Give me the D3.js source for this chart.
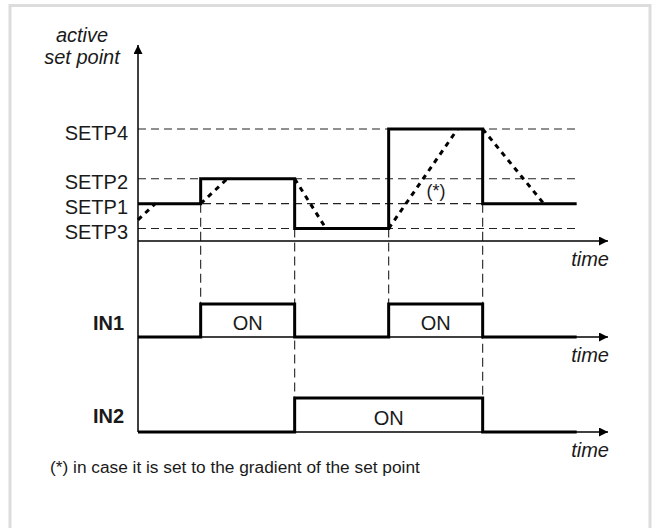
<!DOCTYPE html>
<html lang="en">
<head>
    <meta charset="UTF-8">
    <title>Set point switching diagram</title>
    <script src="https://d3js.org/d3.v7.min.js"></script>
    <style>
        body { margin: 0; background: #fff; }
        svg text { font-family: "Liberation Sans", Arial, Helvetica, sans-serif; fill: #1a1a1a; }
        .lbl { font-size: 20px; }
        .ital { font-style: italic; }
        .bold { font-weight: bold; }
        .axis { stroke: #000; stroke-width: 1.5; fill: none; }
        .thick { stroke: #000; stroke-width: 3; fill: none; }
        .guide { stroke: #222; stroke-width: 1.1; stroke-dasharray: 8,5; fill: none; }
        .vguide { stroke: #222; stroke-width: 1.1; stroke-dasharray: 9,5; fill: none; }
        .ramp { stroke: #000; stroke-width: 3; stroke-dasharray: 5,5; fill: none; }
    </style>
</head>
<body>
<div id="chart"></div>
<script>
    // set point levels (arbitrary units)
    var levelNames = ["SETP3", "SETP1", "SETP2", "SETP4"];
    var levelValues = [1, 3, 5, 9];

    // time units
    var switchTimes = [4, 10, 16, 22];
    var endTime = 28;
    var axisEnd = 30;

    // active set point (step line)
    var setpointT = [0, 4, 4, 10, 10, 16, 16, 22, 22, 28];
    var setpointV = [3, 3, 5, 5, 1, 1, 9, 9, 3, 3];

    // gradient ramps (*) : [t0, v0, t1, v1]
    var ramps = [
        [0, 1.7, 1.1, 3],
        [4, 3, 5.7, 5],
        [10, 5, 12, 1],
        [16, 1, 20.4, 9],
        [22, 9, 25.9, 3]
    ];

    // digital inputs
    var in1T = [0, 4, 4, 10, 10, 16, 16, 22, 22, 28];
    var in1V = [0, 0, 1, 1, 0, 0, 1, 1, 0, 0];
    var in2T = [0, 10, 10, 22, 22, 28];
    var in2V = [0, 0, 1, 1, 0, 0];

    // vertical guides: time, from set point level, to input (1 or 2)
    var vGuideT = [4, 10, 16, 22];
    var vGuideFrom = [3, 1, 1, 3];
    var vGuideTo = [1, 2, 1, 2];

    var w = 652, h = 528;

    var x = d3.scaleLinear().domain([0, axisEnd]).range([138, 608]);
    var y = d3.scaleLinear().domain([0, 9]).range([241, 129]);
    var yIn1 = d3.scaleLinear().domain([0, 1]).range([337, 304]);
    var yIn2 = d3.scaleLinear().domain([0, 1]).range([432, 398]);
    var yTop = 15.75;

    var svg = d3.select("#chart").append("svg")
        .attr("width", w)
        .attr("height", h);

    svg.append("defs").append("marker")
        .attr("id", "arrow")
        .attr("viewBox", "0 0 10 10")
        .attr("refX", 10)
        .attr("refY", 5)
        .attr("markerUnits", "userSpaceOnUse")
        .attr("markerWidth", 11)
        .attr("markerHeight", 9)
        .attr("orient", "auto")
        .append("path")
        .attr("d", "M0,0 L10,5 L0,10 z")
        .attr("fill", "#000");

    // frame
    svg.append("rect")
        .attr("x", 10).attr("y", 5.5)
        .attr("width", 640).attr("height", 600)
        .attr("fill", "none")
        .attr("stroke", "#dcdcdc")
        .attr("stroke-width", 3);

    var line = d3.line();

    // horizontal level guides
    levelValues.forEach(function(v) {
        svg.append("path")
            .attr("class", "guide")
            .attr("d", line([[x(0), y(v)], [x(endTime), y(v)]]));
    });

    // vertical guides
    vGuideT.forEach(function(t, i) {
        var yEnd = vGuideTo[i] === 1 ? yIn1(1) : yIn2(1);
        svg.append("path")
            .attr("class", "vguide")
            .attr("d", line([[x(t), y(vGuideFrom[i])], [x(t), yEnd]]));
    });

    // axes
    svg.append("path").attr("class", "axis")
        .attr("d", line([[x(0), yIn2(0)], [x(0), y(yTop)]]))
        .attr("marker-end", "url(#arrow)");
    [y(0), yIn1(0), yIn2(0)].forEach(function(yy) {
        svg.append("path").attr("class", "axis")
            .attr("d", line([[x(0), yy], [x(axisEnd), yy]]))
            .attr("marker-end", "url(#arrow)");
    });

    // ramps
    ramps.forEach(function(r) {
        svg.append("path")
            .attr("class", "ramp")
            .attr("d", line([[x(r[0]), y(r[1])], [x(r[2]), y(r[3])]]));
    });

    // step signals
    function steps(ts, vs, ys) {
        return line(ts.map(function(t, i) { return [x(t), ys(vs[i])]; }));
    }
    svg.append("path").attr("class", "thick").attr("d", steps(setpointT, setpointV, y));
    svg.append("path").attr("class", "thick").attr("d", steps(in1T, in1V, yIn1));
    svg.append("path").attr("class", "thick").attr("d", steps(in2T, in2V, yIn2));

    // level labels
    levelNames.forEach(function(name, i) {
        svg.append("text")
            .attr("class", "lbl")
            .attr("x", 128)
            .attr("y", y(levelValues[i]) + 10.5)
            .attr("text-anchor", "end")
            .text(name);
    });

    svg.append("text").attr("class", "lbl ital")
        .attr("x", 82).attr("y", 42).attr("text-anchor", "middle").text("active");
    svg.append("text").attr("class", "lbl ital")
        .attr("x", 82).attr("y", 64).attr("text-anchor", "middle").text("set point");

    [y(0), yIn1(0), yIn2(0)].forEach(function(yy) {
        svg.append("text").attr("class", "lbl ital")
            .attr("x", 609).attr("y", yy + 25)
            .attr("text-anchor", "end").text("time");
    });

    svg.append("text").attr("class", "lbl bold")
        .attr("x", 124).attr("y", yIn1(0) - 7).attr("text-anchor", "end").text("IN1");
    svg.append("text").attr("class", "lbl bold")
        .attr("x", 124).attr("y", yIn2(0) - 9).attr("text-anchor", "end").text("IN2");

    // ON labels centred in the pulses
    [[4, 10, yIn1], [16, 22, yIn1], [10, 22, yIn2]].forEach(function(p) {
        svg.append("text").attr("class", "lbl")
            .attr("x", (x(p[0]) + x(p[1])) / 2)
            .attr("y", p[2](0) - 7)
            .attr("text-anchor", "middle")
            .text("ON");
    });

    svg.append("text").attr("class", "lbl")
        .attr("x", 436).attr("y", 197)
        .attr("text-anchor", "middle")
        .style("font-size", "18px")
        .text("(*)");

    svg.append("text").attr("class", "lbl")
        .attr("x", 50).attr("y", 473)
        .style("font-size", "17.3px")
        .text("(*) in case it is set to the gradient of the set point");
</script>
</body>
</html>
